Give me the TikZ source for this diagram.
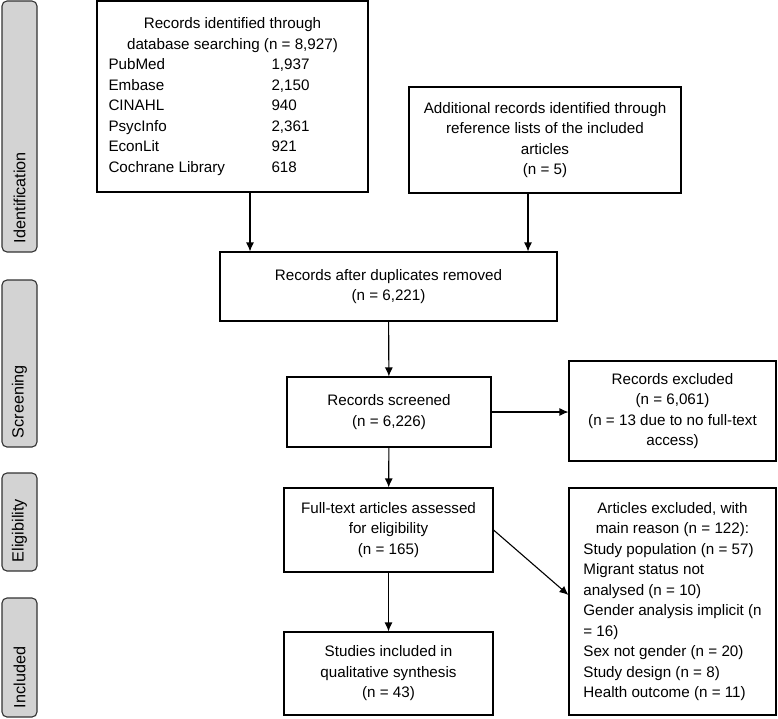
\documentclass[tikz,border=0pt]{standalone}
\usepackage{fontspec}
\setmainfont{Liberation Sans}
\usepackage{tikz}
\usetikzlibrary{arrows.meta}

\definecolor{phasefill}{HTML}{D3D3D3}
\definecolor{phaseline}{HTML}{333333}

\begin{document}
\begin{tikzpicture}[x=1pt,y=-1pt]
  \tikzset {
    box/.style={
      rectangle,
      draw=black,
      line width=1.1pt,
      inner sep=0pt,
      align=center,
      font=\fontsize{15.2}{20.5}\selectfont
    },
    phase/.style={
      rectangle,
      rounded corners=5pt,
      draw=phaseline,
      fill=phasefill,
      line width=1.1pt,
      rotate=90,
      minimum height=35pt,
      inner xsep=9pt,
      inner ysep=0pt,
      align=left,
      font=\fontsize{16.2}{19}\selectfont
    },
    flow/.style={
      -{Latex[length=9pt,width=8pt]},
      line width=1.1pt
    }
  }
  \useasboundingbox (0,0) rectangle (778,718);

  % phases on the left
  \node[phase, text width=233pt](ident) at (19.5,126.5) {Identification};
  \node[phase, text width=149pt](scr) at (19.5,363.5) {Screening};
  \node[phase, text width=80pt](elig) at (19.5,522) {Eligibility};
  \node[phase, text width=101pt](incd) at (19.5,657.5) {Included};

  % boxes
  \node[box, minimum width=271pt, minimum height=191pt](search) at (232.5,96.5) {%
    \begin{tabular}{@{}p{163pt}@{}p{85pt}@{}}
      \multicolumn{2}{@{}c@{}}{Records identified through}\\
      \multicolumn{2}{@{}c@{}}{database searching (n = 8,927)}\\
      PubMed & 1,937\\
      Embase & 2,150\\
      CINAHL & 940\\
      PsycInfo & 2,361\\
      EconLit & 921\\
      Cochrane Library & 618
    \end{tabular}};
  \node[box, minimum width=272pt, minimum height=106pt](extra) at (545,140)
    {Additional records identified through\\reference lists of the included\\articles\\(n = 5)};
  \node[box, minimum width=337pt, minimum height=69pt](dedup) at (388.5,286.5)
    {Records after duplicates removed\\(n = 6,221)};
  \node[box, minimum width=204pt, minimum height=70pt](screen) at (389,412)
    {Records screened\\(n = 6,226)};
  \node[box, minimum width=207pt, minimum height=100pt](excl) at (672.5,411)
    {Records excluded\\(n = 6,061)\\(n = 13 due to no full-text\\access)};
  \node[box, minimum width=209pt, minimum height=84pt](full) at (388.5,530)
    {Full-text articles assessed\\for eligibility\\(n = 165)};
  \node[box, minimum width=209pt, minimum height=83pt](incl) at (388.5,673.5)
    {Studies included in\\qualitative synthesis\\(n = 43)};
  \node[box, minimum width=207pt, minimum height=227pt](fullexcl) at (672.5,601.5) {%
    \begin{tabular}{@{}l@{}}
      \multicolumn{1}{@{}c@{}}{Articles excluded, with}\\
      \multicolumn{1}{@{}c@{}}{main reason (n = 122):}\\
      Study population (n = 57)\\
      Migrant status not\\
      analysed (n = 10)\\
      Gender analysis implicit (n\\
      = 16)\\
      Sex not gender (n = 20)\\
      Study design (n = 8)\\
      Health outcome (n = 11)
    \end{tabular}};

  % arrows
  \draw[flow] ([xshift=17.5pt]search.south) -- ([xshift=17.5pt]search.south |- dedup.north);
  \draw[flow] ([xshift=-17pt]extra.south) -- ([xshift=-17pt]extra.south |- dedup.north);
  \draw[flow] (dedup) -- (screen);
  \draw[flow] (screen.east) -- (screen.east -| excl.west);
  \draw[flow] (screen) -- (full);
  \draw[flow] (full) -- (incl);
  \draw[flow] (full.east) -- ([yshift=6.5pt]fullexcl.west);

\end{tikzpicture}
\end{document}
